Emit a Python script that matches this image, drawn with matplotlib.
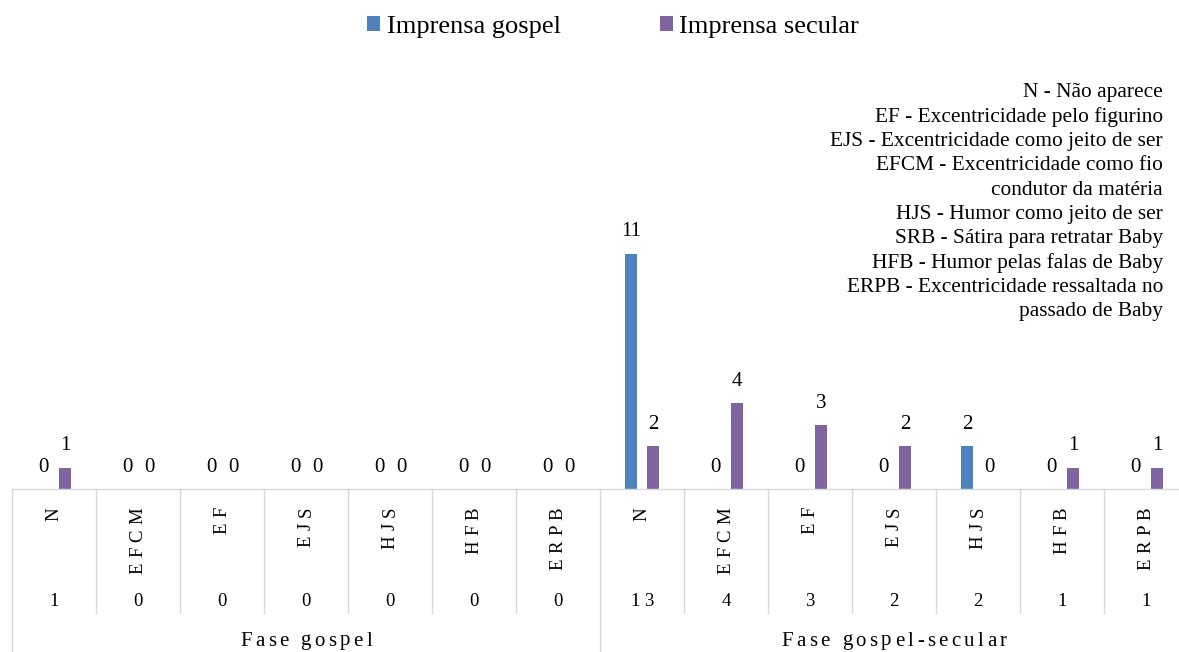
import matplotlib
matplotlib.use("Agg")
import matplotlib.pyplot as plt
from matplotlib.patches import Patch
from matplotlib.font_manager import findfont, FontProperties
from matplotlib.ft2font import FT2Font
import numpy as np

plt.rcParams['font.family'] = ['Liberation Serif', 'DejaVu Serif']

# Categories (two phases of seven codes each)
codes = ['N', 'EFCM', 'EF', 'EJS', 'HJS', 'HFB', 'ERPB']
categories = codes + codes
phases = ['Fase gospel', 'Fase gospel-secular']
gospel = [0, 0, 0, 0, 0, 0, 0, 11, 0, 0, 0, 2, 0, 0]
secular = [1, 0, 0, 0, 0, 0, 0, 2, 4, 3, 2, 0, 1, 1]
series_names = ['Imprensa gospel', 'Imprensa secular']
colors = ['#4F81BD', '#8064A2']
legend_notes = [
    'N - Não aparece',
    'EF - Excentricidade pelo figurino',
    'EJS - Excentricidade como jeito de ser',
    'EFCM - Excentricidade como fio',
    'condutor da matéria',
    'HJS - Humor como jeito de ser',
    'SRB - Sátira para retratar Baby',
    'HFB - Humor pelas falas de Baby',
    'ERPB - Excentricidade ressaltada no',
    'passado de Baby',
]

totals = [g + s for g, s in zip(gospel, secular)]

W, H, DPI = 1179, 652, 100
fig = plt.figure(figsize=(W / DPI, H / DPI), dpi=DPI)

def fx(px):
    return px / W

def fy(py):
    return 1 - py / H

FONT_PATH = findfont(FontProperties(family='Liberation Serif'))

def advances(s, size):
    f = FT2Font(FONT_PATH)
    f.set_size(size, DPI)
    return [f.load_char(ord(c)).linearHoriAdvance / 65536 for c in s]

def tracked_text(s, size, spacing, cx=None, cy=None, top=None, vertical=False):
    """Draw text with extra letter spacing (pixels)."""
    adv = advances(s, size)
    total = sum(adv) + spacing * (len(s) - 1)
    pos = 0.0
    for c, a in zip(s, adv):
        mid = pos + a / 2
        if c != ' ':
            if vertical:
                y = top + total - mid
                fig.text(fx(cx), fy(y), c, rotation=90, ha='center',
                         va='center', fontsize=size)
            else:
                x = cx - total / 2 + mid
                fig.text(fx(x), fy(cy), c, ha='center', va='center',
                         fontsize=size)
        pos += a + spacing

# axes: baseline at y=489 px, 84 px per category starting at x=12 px
left_px, cat_w, base_px, unit_px, ymax = 12, 84, 489, 21.4, 14
n = len(categories)
ax = fig.add_axes([fx(left_px), fy(base_px), n * cat_w / W, ymax * unit_px / H])
x = np.arange(n)
bw = 0.137
off = 0.131
ax.bar(x - off, gospel, bw, color=colors[0])
ax.bar(x + off, secular, bw, color=colors[1])
ax.set_xlim(-0.5, n - 0.5)
ax.set_ylim(0, ymax)
for s in ['top', 'right', 'left']:
    ax.spines[s].set_visible(False)
ax.spines['bottom'].set_color('#d9d9d9')
ax.spines['bottom'].set_linewidth(1.0)
ax.set_xticks([])
ax.set_yticks([])

# value labels
for xs, vals in ((x - off, gospel), (x + off, secular)):
    for xi, v in zip(xs, vals):
        ax.annotate(str(v), (xi, v), xytext=(0, 15.6), textcoords='offset points',
                    ha='center', va='center', fontsize=15, color='#000000')

# table below the axis
grid_c = '#d9d9d9'
for i in range(n + 1):
    xb = left_px + i * cat_w
    y_end = H if i % 7 == 0 else 613
    fig.add_artist(plt.Line2D([fx(xb), fx(xb)], [fy(base_px), fy(y_end)],
                              color=grid_c, lw=1.0))

for i, c in enumerate(categories):
    cx = left_px + (i + 0.5) * cat_w
    tracked_text(c, 13.5, 5.4, cx=cx, top=507, vertical=True)
    tracked_text(str(totals[i]), 13.5, 3.5, cx=cx, cy=601)
for g, name in enumerate(phases):
    cx = left_px + (g * 7 + 3.5) * cat_w
    tracked_text(name, 15, 3.4, cx=cx, cy=641)

# legend
handles = [Patch(facecolor=c, edgecolor='none') for c in colors]
fig.legend(handles, series_names, loc='center', ncol=2,
           bbox_to_anchor=(fx(613), fy(27)), frameon=False, fontsize=19,
           handlelength=0.5, handleheight=0.5, handletextpad=0.25,
           columnspacing=3.75, borderpad=0)

# code descriptions
for k, line in enumerate(legend_notes):
    fig.text(fx(1163), fy(93 + 24.3 * k), line, ha='right', va='center',
             fontsize=15.4)

fig.savefig('out.png', dpi=DPI)
